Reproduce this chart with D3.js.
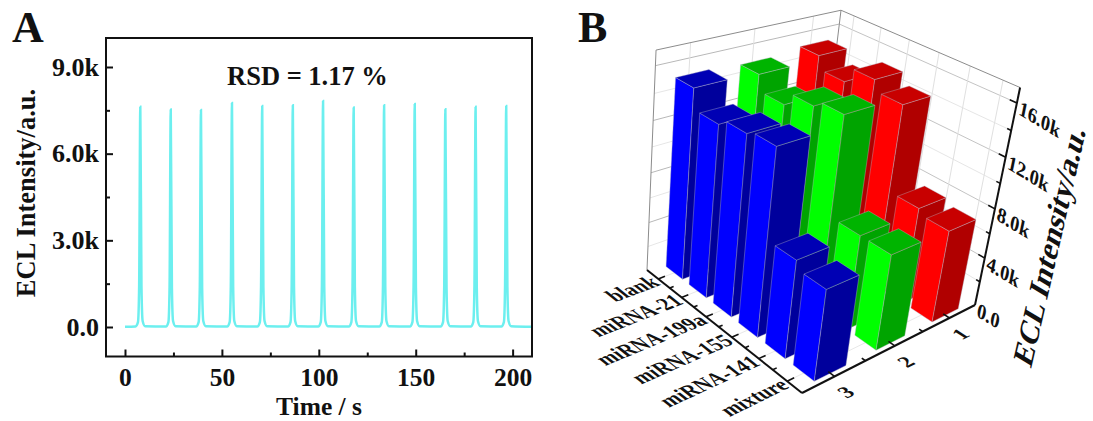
<!DOCTYPE html>
<html>
<head>
<meta charset="utf-8">
<script src="https://cdn.jsdelivr.net/npm/d3@7"></script>
<style>
  body { margin: 0; background: #fff; }
  text { font-family: "Liberation Serif", serif; font-weight: bold; fill: #111; }
</style>
</head>
<body>
<svg id="chart" width="1093" height="421"></svg>
<script>
// Panel A: ECL trace
const timeValues = [
  0, 5.4, 6.7, 7.3, 7.9, 8.5, 9.1, 10.4,
  21.1, 22.4, 23, 23.6, 24.2, 24.8, 26.1,
  36.7, 38, 38.6, 39.2, 39.8, 40.4, 41.7,
  52.7, 54, 54.6, 55.2, 55.8, 56.4, 57.7,
  68.3, 69.6, 70.2, 70.8, 71.4, 72, 73.3,
  84.1, 85.4, 86, 86.6, 87.2, 87.8, 89.1,
  99.7, 101, 101.6, 102.2, 102.8, 103.4, 104.7,
  115.5, 116.8, 117.4, 118, 118.6, 119.2, 120.5,
  131.2, 132.5, 133.1, 133.7, 134.3, 134.9, 136.2,
  147, 148.3, 148.9, 149.5, 150.1, 150.7, 152,
  162.8, 164.1, 164.7, 165.3, 165.9, 166.5, 167.8,
  178.4, 179.7, 180.3, 180.9, 181.5, 182.1, 183.4,
  194.2, 195.5, 196.1, 196.7, 197.3, 197.9, 199.2, 210
];
const intensityValues = [
  10, 20, 170, 1400, 7620, 1400, 210, 30,
  20, 170, 1380, 7530, 1380, 210, 30,
  20, 170, 1380, 7510, 1380, 210, 30,
  20, 170, 1420, 7750, 1420, 210, 30,
  20, 170, 1400, 7650, 1400, 210, 30,
  20, 170, 1400, 7680, 1400, 210, 30,
  20, 170, 1430, 7820, 1430, 210, 30,
  20, 170, 1400, 7600, 1400, 210, 30,
  20, 170, 1400, 7680, 1400, 210, 30,
  20, 170, 1410, 7720, 1410, 210, 30,
  20, 170, 1380, 7540, 1380, 210, 30,
  20, 170, 1400, 7620, 1400, 210, 30,
  20, 170, 1400, 7650, 1400, 210, 30, 10
];
const xMajorTicks = [0, 50, 100, 150, 200];
const xMinorTicks = [25, 75, 125, 175];
const yMajorTicks = [0, 3000, 6000, 9000];
const yMinorTicks = [1500, 4500, 7500];
const yTickLabels = ["0.0", "3.0k", "6.0k", "9.0k"];

// Panel B: bar heights, one array per row
const categories = ["blank", "miRNA-21", "miRNA-199a", "miRNA-155", "miRNA-141", "mixture"];
const rows = ["1", "2", "3"];
const row1Values = [15100, 14100, 15300, 14500, 7800, 7400];
const row2Values = [14800, 13600, 14600, 15100, 7500, 7500];
const row3Values = [15000, 13500, 14000, 14300, 7600, 7000];
const zMajorTicks = [0, 4000, 8000, 12000, 16000];
const zMinorTicks = [2000, 6000, 10000, 14000];
const zTickLabels = ["0.0", "4.0k", "8.0k", "12.0k", "16.0k"];

const svg = d3.select("#chart");

// ---------- Panel A ----------
const frame = { left: 106, right: 532, top: 38, bottom: 356.5 };
const x = d3.scaleLinear().domain([-9.8, 210]).range([frame.left, frame.right]);
const y = d3.scaleLinear().domain([0, 9000]).range([327, 67]);

const panelA = svg.append("g");

panelA.append("path")
  .datum(timeValues.map((t, i) => [t, intensityValues[i]]))
  .attr("fill", "none")
  .attr("stroke", "#6cefef")
  .attr("stroke-width", 2.5)
  .attr("d", d3.line().x((d) => x(d[0])).y((d) => y(d[1])).curve(d3.curveMonotoneX));

panelA.append("rect")
  .attr("x", frame.left)
  .attr("y", frame.top)
  .attr("width", frame.right - frame.left)
  .attr("height", frame.bottom - frame.top)
  .attr("fill", "none")
  .attr("stroke", "#111")
  .attr("stroke-width", 2);

function styleAxis(g, size) {
  g.select(".domain").remove();
  g.selectAll("line").attr("stroke", "#111").attr("stroke-width", 2);
  g.selectAll("text").attr("font-size", size).attr("fill", "#111");
}

panelA.append("g")
  .attr("transform", `translate(0,${frame.bottom})`)
  .call(d3.axisBottom(x).tickValues(xMajorTicks).tickSizeInner(-7).tickPadding(11))
  .call(styleAxis, 25.5);
panelA.append("g")
  .attr("transform", `translate(0,${frame.bottom})`)
  .call(d3.axisBottom(x).tickValues(xMinorTicks).tickSizeInner(-4).tickFormat(""))
  .call(styleAxis, 25.5);
panelA.append("g")
  .attr("transform", `translate(${frame.left},0)`)
  .call(d3.axisLeft(y).tickValues(yMajorTicks).tickSizeInner(-7).tickPadding(7)
    .tickFormat((d, i) => yTickLabels[i]))
  .call(styleAxis, 26);
panelA.append("g")
  .attr("transform", `translate(${frame.left},0)`)
  .call(d3.axisLeft(y).tickValues(yMinorTicks).tickSizeInner(-4).tickFormat(""))
  .call(styleAxis, 26);

panelA.append("text").attr("x", 12).attr("y", 42).attr("font-size", 44).text("A");
panelA.append("text").attr("x", 227).attr("y", 85).attr("font-size", 26.5).text("RSD = 1.17 %");
panelA.append("text").attr("x", 319).attr("y", 415).attr("font-size", 25.5)
  .attr("text-anchor", "middle").text("Time / s");
panelA.append("text")
  .attr("transform", "translate(35,193) rotate(-90)")
  .attr("font-size", 26.5)
  .attr("text-anchor", "middle")
  .text("ECL Intensity/a.u.");

// ---------- Panel B ----------
// Corners of the box on the page; the projection comes from these
const cBack = [817, 207.5], cRight = [975, 305], cFront = [802, 393], cLeft = [647, 270];
const cBackTop = [841, 12], vanishZ = [564, 2287];

// unit square to floor quad
const sx = cBack[0] - cRight[0] + cFront[0] - cLeft[0];
const sy = cBack[1] - cRight[1] + cFront[1] - cLeft[1];
const dx1 = cRight[0] - cFront[0], dy1 = cRight[1] - cFront[1];
const dx2 = cLeft[0] - cFront[0], dy2 = cLeft[1] - cFront[1];
const det = dx1 * dy2 - dx2 * dy1;
const hg = (sx * dy2 - dx2 * sy) / det;
const hh = (dx1 * sy - sx * dy1) / det;
const ha = cRight[0] - cBack[0] + hg * cRight[0];
const hb = cLeft[0] - cBack[0] + hh * cLeft[0];
const hd = cRight[1] - cBack[1] + hg * cRight[1];
const he = cLeft[1] - cBack[1] + hh * cLeft[1];
const hs = (cBackTop[0] - cBack[0]) / (vanishZ[0] - cBackTop[0]);

// u runs blank to mixture, v runs row 1 to row 3, w is height, all 0..1
function project(u, v, w) {
  const t = hg * u + hh * v + 1 + w * hs;
  return [
    (ha * u + hb * v + cBack[0] + w * hs * vanishZ[0]) / t,
    (hd * u + he * v + cBack[1] + w * hs * vanishZ[1]) / t,
  ];
}

const uScale = d3.scaleBand().domain(categories).range([0, 1]);
const vScale = d3.scaleBand().domain(rows).range([0, 1]);
const wScale = d3.scaleLinear().domain([0, 17100]).range([0, 1]);

const panelB = svg.append("g");
const polyline = d3.line();

function seg(p1, p2, stroke, width) {
  panelB.append("path")
    .attr("d", polyline([project(...p1), project(...p2)]))
    .attr("fill", "none")
    .attr("stroke", stroke)
    .attr("stroke-width", width);
}

// grid on the two walls and the floor
const uCenters = categories.map((c) => uScale(c) + uScale.bandwidth() / 2);
const vCenters = rows.map((r) => vScale(r) + vScale.bandwidth() / 2);

zMinorTicks.forEach((z) => {
  const w = wScale(z);
  seg([0, 1, w], [0, 0, w], "#e6e6e6", 1);
  seg([0, 0, w], [1, 0, w], "#e6e6e6", 1);
});
zMajorTicks.slice(1).forEach((z) => {
  const w = wScale(z);
  seg([0, 1, w], [0, 0, w], "#b8b8b8", 1);
  seg([0, 0, w], [1, 0, w], "#c4c4c4", 1);
});
uCenters.forEach((u) => {
  seg([u, 0, 0], [u, 0, 1], "#e0e0e0", 1);
  seg([u, 0, 0], [u, 1, 0], "#e8e8e8", 1);
});
vCenters.forEach((v) => {
  seg([0, v, 0], [0, v, 1], "#e0e0e0", 1);
  seg([0, v, 0], [1, v, 0], "#e8e8e8", 1);
});

// box outline
seg([0, 1, 0], [0, 1, 1], "#8c8c8c", 1);
seg([0, 1, 1], [0, 0, 1], "#8c8c8c", 1);
seg([0, 0, 1], [1, 0, 1], "#8c8c8c", 1);
seg([0, 0, 0], [0, 0, 1], "#8c8c8c", 1);

// bars, drawn back to front
const rowColors = {
  1: { front: "#ff0000", side: "#b00000", top: "#c80000" },
  2: { front: "#00ff00", side: "#00a400", top: "#00b400" },
  3: { front: "#0000ff", side: "#00009c", top: "#0000b4" },
};
const rowValues = { 1: row1Values, 2: row2Values, 3: row3Values };
const bars = rows.flatMap((r) => categories.map((c, i) => ({
  row: r,
  category: c,
  value: rowValues[r][i],
})));
const barU = uScale.bandwidth() * 0.72;
const barV = vScale.bandwidth() * 0.5;

function barFaces(d) {
  const u0 = uScale(d.category) + (uScale.bandwidth() - barU) / 2, u1 = u0 + barU;
  const v0 = vScale(d.row) + (vScale.bandwidth() - barV) / 2, v1 = v0 + barV;
  const w = wScale(d.value);
  const c = rowColors[d.row];
  return [
    { fill: c.front, pts: [[u0, v1, 0], [u1, v1, 0], [u1, v1, w], [u0, v1, w]] },
    { fill: c.side, pts: [[u1, v1, 0], [u1, v0, 0], [u1, v0, w], [u1, v1, w]] },
    { fill: c.top, pts: [[u0, v1, w], [u1, v1, w], [u1, v0, w], [u0, v0, w]] },
  ];
}

panelB.selectAll(".bar")
  .data(bars)
  .join("g")
  .attr("class", "bar")
  .selectAll("path")
  .data(barFaces)
  .join("path")
  .attr("d", (f) => polyline(f.pts.map((p) => project(...p))) + "Z")
  .attr("fill", (f) => f.fill)
  .attr("stroke", "#b9b9c8")
  .attr("stroke-opacity", 0.55)
  .attr("stroke-width", 0.7)
  .attr("stroke-linejoin", "round");

// black axes
seg([0, 1, 0], [1, 1, 0], "#111", 2);
seg([1, 1, 0], [1, 0, 0], "#111", 2);
seg([1, 0, 0], [1, 0, 1], "#111", 2);

const edges = (scale, names) => names.slice(1).map((n) => scale(n));
uCenters.forEach((u) => seg([u, 1, 0], [u, 0.965, 0], "#111", 1.6));
edges(uScale, categories).forEach((u) => seg([u, 1, 0], [u, 0.98, 0], "#111", 1.6));
vCenters.forEach((v) => seg([1, v, 0], [0.965, v, 0], "#111", 1.6));
edges(vScale, rows).forEach((v) => seg([1, v, 0], [0.98, v, 0], "#111", 1.6));
zMajorTicks.slice(1).forEach((z) => seg([1, 0, wScale(z)], [0.965, 0, wScale(z)], "#111", 1.6));
zMinorTicks.forEach((z) => seg([1, 0, wScale(z)], [0.98, 0, wScale(z)], "#111", 1.6));

// text sits on the floor or wall plane, so it is sheared
function unit(a, b) {
  const l = Math.hypot(b[0] - a[0], b[1] - a[1]);
  return [(b[0] - a[0]) / l, (b[1] - a[1]) / l];
}
function planeMatrix(across, up, pos, upScale = 1) {
  return `matrix(${across[0]},${across[1]},${-up[0] * upScale},${-up[1] * upScale},${pos[0]},${pos[1]})`;
}

categories.forEach((c, i) => {
  const u = uCenters[i];
  const p = project(u, 1, 0);
  const across = unit(project(u, 1, 0), project(u, 0.9, 0));
  const up = unit(project(u, 1, 0), project(u - 0.1, 1, 0));
  panelB.append("text")
    .attr("transform", planeMatrix(across, up, [p[0] + 3, p[1] + 6], 1.15))
    .attr("text-anchor", "end")
    .attr("font-size", 20)
    .text(c);
});

rows.forEach((r, i) => {
  const v = vCenters[i];
  const p = project(1, v, 0);
  const across = unit(project(1, v, 0), project(1, v - 0.1, 0));
  const up = unit(project(1, v, 0), project(0.9, v, 0));
  panelB.append("text")
    .attr("transform", planeMatrix(across, up, [p[0] + 17, p[1] + 20]))
    .attr("text-anchor", "middle")
    .attr("font-size", 21)
    .text(r);
});

zMajorTicks.forEach((z, i) => {
  const p = project(1, 0, wScale(z));
  const up = unit(project(1, 0, 0), project(1, 0, 1));
  panelB.append("text")
    .attr("transform", planeMatrix([0.857, 0.515], up, [p[0] + 1, p[1] + 11]))
    .attr("font-size", 20.5)
    .text(zTickLabels[i]);
});

panelB.append("text")
  .attr("transform", planeMatrix([0.225, -0.974], [-0.857, -0.515], [1031, 369]))
  .attr("font-size", 31)
  .text("ECL Intensity/a.u.");

panelB.append("text").attr("x", 578).attr("y", 42).attr("font-size", 44).text("B");
</script>
</body>
</html>
